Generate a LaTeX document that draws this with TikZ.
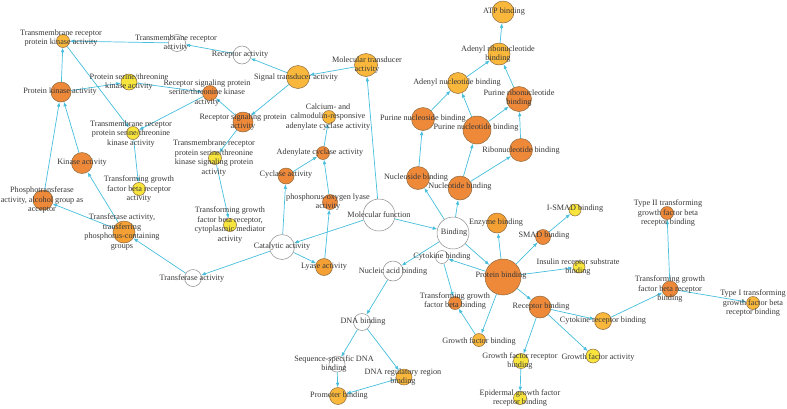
\documentclass[tikz,border=0pt]{standalone}
\usepackage{fontspec}
\setmainfont{Liberation Serif}
\usetikzlibrary{arrows.meta}
\definecolor{dk}{RGB}{238,137,58}
\definecolor{lo}{RGB}{249,184,60}
\definecolor{md}{RGB}{245,160,52}
\definecolor{yl}{RGB}{247,228,60}
\definecolor{edgec}{RGB}{70,190,220}
\definecolor{bdr}{RGB}{140,105,60}
\definecolor{txt}{RGB}{55,55,55}
\pgfdeclarelayer{bg}\pgfsetlayers{bg,main}
\tikzset{
 gn/.style={circle,draw=bdr,line width=0.5pt,inner sep=0pt,minimum size=#1},
 dkn/.style={gn=#1,fill=dk},
 lon/.style={gn=#1,fill=lo},
 mdn/.style={gn=#1,fill=md},
 yln/.style={gn=#1,fill=yl},
 wn/.style={circle,draw=gray!90,line width=0.5pt,fill=white,inner sep=0pt,minimum size=#1},
 lbl/.style={align=center,font=\fontsize{8.2}{9.6}\selectfont,text=txt,inner sep=0pt},
 ed/.style={draw=edgec,line width=0.7pt,-{Latex[length=4.5pt,width=3.6pt]}}
}
\begin{document}
\begin{tikzpicture}[x=1pt,y=-1pt]
\useasboundingbox (0,0) rectangle (787,408);
% circles
\node[lon=22] (atp) at (503,12) {};
\node[lon=22] (adr) at (499,54) {};
\node[lon=21] (adn) at (458,83) {};
\node[dkn=25] (prn) at (519,99) {};
\node[dkn=23] (pns) at (423,119) {};
\node[dkn=28] (pnt) at (477,130) {};
\node[dkn=23] (rib) at (521,150) {};
\node[dkn=23] (nsb) at (418,178) {};
\node[dkn=24] (ntb) at (460,188) {};
\node[wn=32] (bind) at (453,233) {};
\node[wn=32] (mf) at (379,215) {};
\node[mdn=20] (enz) at (497,223) {};
\node[dkn=15] (smad) at (543,237) {};
\node[yln=12] (ismad) at (575,210) {};
\node[wn=13] (cyt) at (442,257) {};
\node[dkn=36] (prot) at (503,277) {};
\node[yln=12] (ins) at (579,267) {};
\node[dkn=13] (tgfbb) at (455,303) {};
\node[dkn=22] (recb) at (540,307) {};
\node[lon=13] (gfb) at (479,340) {};
\node[lon=17] (cytr) at (603,321) {};
\node[yln=14] (gfa) at (593,356) {};
\node[yln=15] (gfrb) at (521,361) {};
\node[yln=13] (egfr) at (520,398) {};
\node[dkn=16] (tgfbrb) at (670,289) {};
\node[lon=13] (typeone) at (753,303) {};
\node[dkn=13] (typetwo) at (667,213) {};
\node[wn=20] (nab) at (393,271) {};
\node[wn=17] (dnab) at (362,322) {};
\node[wn=16] (seq) at (337,364) {};
\node[lon=16] (dnareg) at (404,377) {};
\node[lon=17] (prom) at (338,396) {};
\node[wn=25] (cat) at (282,247) {};
\node[mdn=17] (lya) at (324,267) {};
\node[wn=17] (tra) at (193,278) {};
\node[dkn=16] (cyc) at (286,176) {};
\node[dkn=13] (adc) at (323,153) {};
\node[dkn=15] (pol) at (330,202) {};
\node[lon=13] (calc) at (329,117) {};
\node[lon=23] (mtd) at (366,65) {};
\node[lon=23] (std) at (298,77) {};
\node[wn=18] (reca) at (242,55) {};
\node[wn=17] (tmra) at (177,43) {};
\node[lon=13] (trpk) at (63,41) {};
\node[yln=16] (pstk) at (129,82) {};
\node[dkn=20] (pk) at (61,92) {};
\node[dkn=15] (rspstk) at (210,93) {};
\node[dkn=20] (rspa) at (243,122) {};
\node[yln=13] (trpstk) at (133,133) {};
\node[yln=13] (trpstkspa) at (215,158) {};
\node[yln=13] (tgfbrcyt) at (230,225) {};
\node[yln=13] (tgfbra) at (139,189) {};
\node[dkn=21] (kin) at (82,163) {};
\node[dkn=20] (pta) at (43,200) {};
\node[mdn=22] (tph) at (124,232) {};
% edges
\begin{pgfonlayer}{bg}
\foreach \a/\b in {adr/atp, adn/adr, prn/adr, pns/adn, pnt/adn, pnt/prn, rib/prn,
  nsb/pns, ntb/pnt, ntb/rib, bind/nsb, bind/ntb, mf/bind, prot/enz, prot/smad,
  smad/ismad, bind/prot, prot/cyt, cyt/tgfbb, prot/gfb, gfb/tgfbb, prot/recb,
  prot/ins, recb/cytr, recb/gfrb, recb/gfa, gfrb/egfr, cytr/tgfbrb,
  tgfbrb/typeone, tgfbrb/typetwo, bind/nab, nab/dnab, dnab/seq, dnab/dnareg,
  seq/prom, dnareg/prom, mf/cat, mf/mtd, mtd/std, std/reca, std/rspa,
  reca/tmra, tmra/trpk, rspa/rspstk, rspa/trpstkspa, trpstkspa/tgfbrcyt,
  pstk/rspstk, rspstk/trpstk, trpk/trpstk, pk/trpk, pk/pstk, kin/pk, pta/pk,
  tph/kin, tph/pta, tra/tph, cat/tra, cat/cyc, cat/lya, lya/pol, pol/adc,
  cyc/adc, adc/calc, trpstk/tgfbra}
  \draw[ed] (\a) -- (\b);
\end{pgfonlayer}
% labels
\node[lbl] (l-atp) at (504,12) {ATP binding};
\node[lbl] (l-adr) at (498,54) {Adenyl ribonucleotide\\binding};
\node[lbl] (l-adn) at (457,83) {Adenyl nucleotide binding};
\node[lbl] (l-prn) at (519,98) {Purine ribonucleotide\\binding};
\node[lbl] (l-pns) at (423,119) {Purine nucleoside binding};
\node[lbl] (l-pnt) at (476,128) {Purine nucleotide binding};
\node[lbl] (l-rib) at (521,151) {Ribonucleotide binding};
\node[lbl] (l-nsb) at (416,178) {Nucleoside binding};
\node[lbl] (l-ntb) at (460,187) {Nucleotide binding};
\node[lbl] (l-bind) at (454,233) {Binding};
\node[lbl] (l-mf) at (379,215) {Molecular function};
\node[lbl] (l-enz) at (496,223) {Enzyme binding};
\node[lbl] (l-smad) at (544,236) {SMAD binding};
\node[lbl] (l-ismad) at (575,209) {I-SMAD binding};
\node[lbl] (l-cyt) at (442,257) {Cytokine binding};
\node[lbl] (l-prot) at (501,276) {Protein binding};
\node[lbl] (l-ins) at (578,267) {Insulin receptor substrate\\binding};
\node[lbl] (l-tgfbb) at (455,301) {Transforming growth\\factor beta binding};
\node[lbl] (l-recb) at (541,307) {Receptor binding};
\node[lbl] (l-gfb) at (479,341) {Growth factor binding};
\node[lbl] (l-cytr) at (603,321) {Cytokine receptor binding};
\node[lbl] (l-gfa) at (598,357) {Growth factor activity};
\node[lbl] (l-gfrb) at (520,361) {Growth factor receptor\\binding};
\node[lbl] (l-egfr) at (520,398) {Epidermal growth factor\\receptor binding};
\node[lbl] (l-tgfbrb) at (670,289) {Transforming growth\\factor beta receptor\\binding};
\node[lbl] (l-typeone) at (753,303) {Type I transforming\\growth factor beta\\receptor binding};
\node[lbl] (l-typetwo) at (668,213) {Type II transforming\\growth factor beta\\receptor binding};
\node[lbl] (l-nab) at (393,272) {Nucleic acid binding};
\node[lbl] (l-dnab) at (363,322) {DNA binding};
\node[lbl] (l-seq) at (334,364) {Sequence-specific DNA\\binding};
\node[lbl] (l-dnareg) at (403,377) {DNA regulatory region\\binding};
\node[lbl] (l-prom) at (339,396) {Promoter binding};
\node[lbl] (l-cat) at (282,247) {Catalytic activity};
\node[lbl] (l-lya) at (324,267) {Lyase activity};
\node[lbl] (l-tra) at (192,278) {Transferase activity};
\node[lbl] (l-cyc) at (286,175) {Cyclase activity};
\node[lbl] (l-adc) at (320,153) {Adenylate cyclase activity};
\node[lbl] (l-pol) at (328,202) {phosphorus-oxygen lyase\\activity};
\node[lbl] (l-calc) at (328,117) {Calcium- and\\calmodulin-responsive\\adenylate cyclase activity};
\node[lbl] (l-mtd) at (367,65) {Molecular transducer\\activity};
\node[lbl] (l-std) at (296,78) {Signal transducer activity};
\node[lbl] (l-reca) at (240,55) {Receptor activity};
\node[lbl] (l-tmra) at (176,43) {Transmembrane receptor\\activity};
\node[lbl] (l-trpk) at (61,38) {Transmembrane receptor\\protein kinase activity};
\node[lbl] (l-pstk) at (129,82) {Protein serine/threonine\\kinase activity};
\node[lbl] (l-pk) at (60,92) {Protein kinase activity};
\node[lbl] (l-rspstk) at (207,93) {Receptor signaling protein\\serine/threonine kinase\\activity};
\node[lbl] (l-rspa) at (243,122) {Receptor signaling protein\\activity};
\node[lbl] (l-trpstk) at (131,134) {Transmembrane receptor\\protein serine/threonine\\kinase activity};
\node[lbl] (l-trpstkspa) at (214,158) {Transmembrane receptor\\protein serine/threonine\\kinase signaling protein\\activity};
\node[lbl] (l-tgfbrcyt) at (230,225) {Transforming growth\\factor beta receptor,\\cytoplasmic mediator\\activity};
\node[lbl] (l-tgfbra) at (139,189) {Transforming growth\\factor beta receptor\\activity};
\node[lbl] (l-kin) at (82,163) {Kinase activity};
\node[lbl] (l-pta) at (42,200) {Phosphotransferase\\activity, alcohol group as\\acceptor};
\node[lbl] (l-tph) at (122,232) {Transferase activity,\\transferring\\phosphorus-containing\\groups};
\end{tikzpicture}
\end{document}
